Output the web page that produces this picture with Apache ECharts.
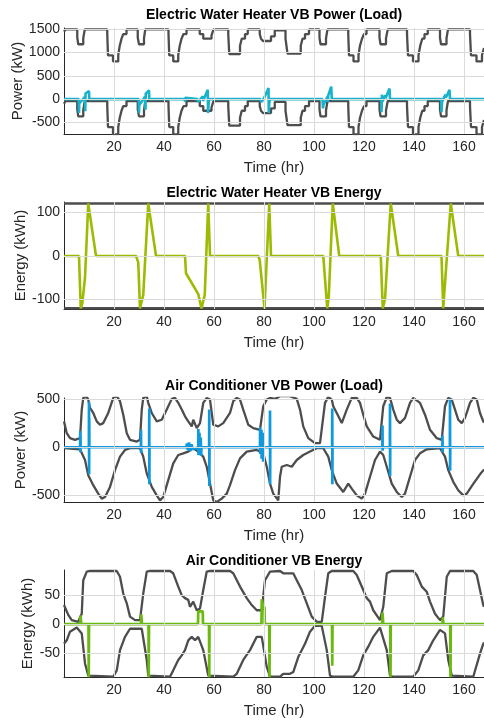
<!DOCTYPE html>
<html>
<head>
<meta charset="utf-8">
<script src="https://cdn.jsdelivr.net/npm/echarts@6/dist/echarts.min.js"></script>
<style>
html, body { margin: 0; padding: 0; background: #fff; }
#container { width: 484px; height: 721px; }
</style>
</head>
<body>
<div id="container"></div>
<script>
var dom = document.getElementById("container");
var myChart = echarts.init(dom);

// tick labels
var timeTicks = [20, 40, 60, 80, 100, 120, 140, 160];
var ewhPowerTicks = [-500, 0, 500, 1000, 1500];
var ewhEnergyTicks = [-100, 0, 100];
var acPowerTicks = [-500, 0, 500];
var acEnergyTicks = [-50, 0, 50];

var titles = [
  "Electric Water Heater VB Power (Load)",
  "Electric Water Heater VB Energy",
  "Air Conditioner VB Power (Load)",
  "Air Conditioner VB Energy"
];
var yNames = ["Power (kW)", "Energy (kWh)", "Power (kW)", "Energy (kWh)"];

// water heater power limits (kW), stairs
var ewhPowerUpper = [
  [0, 1450], [0.6, 1500],
  [5.3, 1330], [5.7, 1180], [7.7, 1310], [8.3, 1500],
  [17.3, 1400], [17.6, 940], [19.6, 810], [21.7, 950], [22.3, 1150], [23, 1300], [23.7, 1400], [25, 1500],
  [29.5, 1320], [30, 1180], [32, 1310], [32.5, 1500],
  [41.8, 1400], [42.1, 940], [43.7, 810], [45.7, 950], [46.3, 1150], [47, 1300], [47.8, 1400], [49, 1500],
  [54.3, 1400], [55.7, 1300], [59, 1370], [59.8, 1500],
  [65.7, 1400], [66.1, 970], [70.4, 1150], [71.1, 1300], [72.4, 1400], [73.5, 1500],
  [78.3, 1400], [78.8, 1300], [79.6, 1250], [82.8, 1350], [84.3, 1480],
  [88.6, 1300], [89.4, 980], [94.7, 1150], [95.4, 1300], [96.4, 1400], [98, 1500],
  [102.2, 1320], [102.6, 1180], [104.8, 1310], [105.4, 1500],
  [113.7, 1400], [114, 940], [115.8, 810], [117.8, 950], [118.4, 1150], [119.2, 1300], [120, 1400], [121, 1500],
  [126.2, 1320], [126.6, 1180], [128.8, 1310], [129.5, 1500],
  [137.2, 1400], [137.6, 940], [139.6, 810], [141.8, 950], [142.5, 1150], [143.3, 1300], [144.2, 1400], [145.5, 1500],
  [150.4, 1320], [150.8, 1180], [153, 1310], [153.6, 1500],
  [162.4, 1400], [162.8, 940], [165, 810], [167.2, 950], [168, 1100]
];
var ewhPowerLower = [
  [0, -100], [0.6, -40],
  [5.3, -220], [5.7, -370], [7.7, -240], [8.3, -40],
  [17.3, -150], [17.6, -600], [19.6, -760], [21.7, -600], [22.3, -400], [23, -250], [23.7, -150], [25, -40],
  [29.5, -220], [30, -370], [32, -240], [32.5, -40],
  [41.8, -150], [42.1, -600], [43.7, -760], [45.7, -600], [46.3, -400], [47, -250], [47.8, -150], [49, -40],
  [54.3, -150], [55.7, -250], [59, -180], [59.8, -40],
  [65.7, -150], [66.1, -570], [70.4, -400], [71.1, -250], [72.4, -150], [73.5, -40],
  [78.3, -150], [78.8, -250], [79.6, -300], [82.8, -200], [84.3, -60],
  [88.6, -250], [89.4, -560], [94.7, -400], [95.4, -250], [96.4, -150], [98, -40],
  [102.2, -220], [102.6, -370], [104.8, -240], [105.4, -40],
  [113.7, -150], [114, -600], [115.8, -760], [117.8, -600], [118.4, -400], [119.2, -250], [120, -150], [121, -40],
  [126.2, -220], [126.6, -370], [128.8, -240], [129.5, -40],
  [137.2, -150], [137.6, -600], [139.6, -760], [141.8, -600], [142.5, -400], [143.3, -250], [144.2, -150], [145.5, -40],
  [150.4, -220], [150.8, -370], [153, -240], [153.6, -40],
  [162.4, -150], [162.8, -600], [165, -760], [167.2, -600], [168, -450]
];
var ewhPowerVB = [
  [0, 0],
  [5.9, 0], [6.0, -300], [6.1, -90], [8.4, 50], [8.5, -260], [8.6, 120], [10.0, 175], [10.1, 0],
  [29.9, 0], [30.0, -300], [30.1, -130], [32.4, 50], [32.6, -230], [32.7, 120], [34.0, 190], [34.1, 0],
  [48.3, 0], [48.4, -60], [48.5, 30], [48.6, 0],
  [53.4, 0], [53.7, -60], [54.3, -20], [55.5, 60], [55.6, -40], [57.5, 200], [57.6, -300], [57.8, -150], [58.0, 0],
  [78.5, 0], [79, -60], [80, 20], [80.2, -20], [81.8, 240], [81.9, -300], [82.1, -100], [82.3, 0],
  [103.4, 0], [103.6, -200], [103.8, -120], [105.5, 60], [105.6, -60], [105.7, 80], [106.9, 270], [107.1, 0],
  [126.9, 0], [127.0, -280], [127.2, 100], [127.4, -50], [128.5, 80], [128.6, 20], [130.2, 230], [130.4, 0],
  [150.9, 0], [151.0, -280], [151.2, -60], [152.6, 100], [152.7, 30], [154.2, 200], [154.4, 0],
  [168, 0]
];

// water heater energy (kWh)
var ewhEnergyVB = [
  [0, 0], [6, 0], [6.7, -121], [7.3, -110], [8.4, -50], [9.7, 121], [12.8, 0],
  [28.8, 0], [29.7, -15], [30.4, -121], [30.9, -121], [31.7, -90], [33.7, 121], [36.8, 0],
  [48.4, 0], [48.8, -40], [53.7, -88], [55, -121], [55.5, -121], [56.3, -90], [57.7, 121], [58.4, 0],
  [77.7, 0], [78.3, -10], [80.2, -121], [80.6, -121], [82.1, 121], [82.8, 0],
  [103.7, 0], [105.3, -121], [105.9, -95], [107.5, 121], [110.1, 0],
  [126.7, 0], [127.5, -121], [128.0, -121], [128.4, -100], [130.7, 121], [133.7, 0],
  [151, 0], [151.7, -121], [152, -95], [152.4, -95], [154.7, 121], [157.7, 0], [168, 0]
];
var ewhEnergyMax = [[0, 121], [168, 121]];
var ewhEnergyMin = [[0, -121], [168, -121]];

// air conditioner power limits (kW)
var acPowerUpper = [
  [0, 268], [0.4, 268], [1.1, 146], [2.4, 94], [4.4, 77], [6.4, 94], [7.1, 390], [7.7, 511], [9.1, 522],
  [9.7, 494], [10.4, 407], [11.7, 355], [13.1, 268], [14.4, 233], [15.7, 250], [17.7, 355], [19.7, 511],
  [21.1, 529], [22.4, 477], [23.7, 337], [25.1, 146], [26.4, 77], [29.1, 59], [30.4, 77], [31.1, 390],
  [31.7, 511], [33.1, 529], [33.7, 460], [35.1, 355], [37.1, 268], [39.1, 285], [41.1, 390], [43.1, 501],
  [44.4, 511], [45.7, 460], [47.1, 390], [48.4, 320], [49.7, 268], [51.1, 216], [51.7, 285], [53.1, 198],
  [54.4, 250], [55.7, 460], [57.1, 511], [58.4, 494], [59.7, 233], [61.7, 216], [63.7, 250], [66.4, 355],
  [67.7, 477], [69.1, 511], [70.4, 494], [71.7, 390], [73.7, 233], [75.7, 198], [78.4, 181], [79.7, 425],
  [81.1, 494], [82.4, 511], [84.4, 501], [86.4, 529], [90.4, 529], [93.1, 501], [94.4, 390], [95.7, 216],
  [97.7, 94], [100.4, 42], [102.4, 42], [104.4, 460], [105.7, 522], [107.1, 494], [107.7, 425], [109.1, 355],
  [111.1, 250], [113.1, 390], [115.1, 511], [117.1, 511], [118.4, 460], [119.7, 337], [121.1, 216],
  [123.7, 111], [126.4, 77], [127.7, 425], [129.1, 518], [130.4, 511], [131.7, 390], [133.1, 285],
  [134.4, 250], [136.4, 303], [138.4, 460], [139.7, 511], [142.4, 460], [144.4, 337], [146.4, 181],
  [149.1, 94], [151.1, 77], [152.4, 425], [153.7, 511], [155.1, 494], [156.4, 390], [157.7, 285],
  [159.1, 250], [160.4, 303], [162.4, 460], [163.7, 511], [165.1, 494], [166.4, 355], [167.7, 268], [168, 255]
];
var acPowerLower = [
  [0, -10], [6.4, -21], [8.4, -132], [9.7, -289], [11.7, -393], [13.7, -480], [15.1, -532], [16.4, -515],
  [18.4, -411], [20.4, -237], [22.4, -97], [24.4, -28], [26.4, -10], [30.4, -10], [31.7, -97], [33.1, -271],
  [35.1, -411], [37.1, -498], [38.4, -550], [39.7, -515], [41.7, -341], [43.7, -167], [45.7, -80],
  [47.7, -63], [49.7, -45], [51.7, -10], [53.7, -45], [55.7, -97], [57.1, -202], [58.4, -376], [59.7, -550],
  [61.1, -567], [63.1, -532], [65.1, -480], [66.4, -393], [68.4, -237], [70.4, -115], [73.1, -45],
  [77.1, -28], [79.7, -63], [81.1, -202], [82.4, -376], [83.7, -480], [85.7, -550], [86.4, -306],
  [87.1, -202], [89.1, -184], [91.1, -202], [93.1, -132], [95.7, -80], [98.4, -45], [101.1, -10],
  [103.7, -10], [105.7, -97], [107.1, -237], [109.1, -376], [111.7, -463], [113.7, -376], [115.1, -428],
  [117.1, -498], [119.1, -532], [120.4, -480], [122.4, -306], [124.4, -132], [126.4, -45], [127.7, -80],
  [129.1, -202], [131.1, -376], [133.1, -463], [135.1, -515], [136.4, -480], [138.4, -306], [140.4, -132],
  [142.4, -63], [145.1, -21], [150.4, -10], [152.4, -97], [153.7, -237], [155.7, -358], [157.7, -445],
  [159.7, -498], [161.1, -480], [163.7, -380], [166.4, -280], [167.7, -240], [168, -230]
];
var acPowerVB = [
  [0, 0],
  [6.45, 0], [6.5, 167], [6.55, -52], [6.6, 120], [6.65, 0],
  [9.95, 0], [10.0, 470], [10.05, -279], [10.1, 300], [10.15, 0],
  [30.75, 0], [30.8, 181], [30.85, -60], [30.9, 0],
  [34.05, 0], [34.1, 400], [34.15, -383], [34.2, 0],
  [48.9, 0], [49.2, 40], [49.5, -30], [50, 50], [50.5, -40], [51, 30], [51.5, -20], [51.7, 0],
  [53.7, 0], [53.75, 190], [53.8, -80], [54.2, 150], [54.3, -60], [54.7, 100], [54.8, -90], [55.0, 0],
  [58.05, 0], [58.1, 390], [58.15, -400], [58.2, 0],
  [78.4, 0], [78.45, 207], [78.5, -70], [79, 180], [79.05, -120], [79.6, 150], [79.65, -150], [79.7, 0],
  [82.35, 0], [82.4, 380], [82.45, -383], [82.5, 0],
  [107.25, 0], [107.3, 400], [107.35, -383], [107.4, 0],
  [127.35, 0], [127.4, 225], [127.45, -35], [127.5, 0],
  [130.35, 0], [130.4, 453], [130.45, -297], [130.5, 0],
  [151.35, 0], [151.4, 122], [151.45, -52], [151.5, 0],
  [154.35, 0], [154.4, 505], [154.45, -244], [154.5, 0],
  [168, 0]
];

// air conditioner energy limits (kWh)
var acEnergyUpper = [
  [0, 33], [0.8, 30], [1.7, 16], [3.1, 7], [5.7, 4], [7.1, 18], [7.7, 76], [9.1, 91], [10.4, 92],
  [21.1, 92], [22.4, 82], [23.7, 53], [25.1, 36], [26.4, 13], [28.4, 7], [30.4, 7], [31.7, 53], [33.1, 91],
  [34.4, 92], [42.4, 92], [43.7, 88], [45.7, 65], [47.1, 50], [48.4, 45], [49.7, 42], [50.4, 30], [51.7, 39],
  [53.1, 24], [54.4, 27], [55.7, 59], [57.1, 91], [58.4, 92], [66.4, 92], [67.7, 88], [70.4, 65], [73.1, 45],
  [75.1, 33], [77.1, 24], [79.1, 24], [80.4, 76], [82.4, 91], [86.4, 92], [87.7, 88], [91.7, 88], [93.1, 76],
  [95.1, 59], [97.1, 36], [99.1, 13], [101.1, 4], [103.1, 4], [104.4, 47], [105.7, 88], [107.1, 92],
  [115.7, 92], [117.1, 85], [119.1, 65], [121.1, 45], [122.4, 39], [123.7, 24], [126.4, 7], [127.7, 30],
  [129.1, 88], [131.1, 92], [139.7, 92], [141.1, 85], [143.1, 65], [145.1, 56], [146.4, 39], [148.4, 18],
  [150.4, 7], [151.7, 13], [153.1, 82], [154.4, 92], [163.7, 92], [165.1, 85], [166.4, 59], [167.7, 33], [168, 30]
];
var acEnergyLower = [
  [0, -34], [1.1, -28], [2.4, -13], [5.1, -6], [7.1, -16], [8.4, -68], [9.7, -89], [10.4, -91], [19.7, -91],
  [21.1, -80], [22.4, -45], [24.4, -22], [26.4, -8], [31.1, -8], [33.1, -62], [33.7, -89], [34.4, -91],
  [42.4, -91], [43.7, -80], [45.7, -62], [47.1, -54], [48.4, -45], [49.7, -28], [51.1, -22], [52.4, -28],
  [53.7, -22], [55.7, -45], [57.7, -89], [58.4, -91], [67.7, -91], [69.1, -86], [71.7, -62], [74.4, -45],
  [77.1, -22], [79.1, -22], [81.1, -74], [82.4, -91], [86.4, -91], [87.7, -86], [90.4, -86], [91.7, -83],
  [93.7, -57], [96.4, -34], [98.4, -13], [100.4, -3], [103.1, -3], [105.1, -45], [106.4, -89], [107.7, -91],
  [115.7, -91], [117.7, -80], [119.7, -54], [121.7, -39], [123.7, -22], [126.4, -6], [129.1, -45],
  [130.4, -89], [131.7, -91], [139.7, -91], [141.7, -80], [143.7, -54], [145.7, -45], [147.7, -28],
  [150.4, -10], [152.4, -16], [153.7, -62], [155.1, -89], [155.7, -91], [163.7, -91], [166.4, -51],
  [167.7, -34], [168, -32]
];
var acEnergyVB = [
  [0, 0], [6.5, 0], [6.6, 15], [6.8, 15], [6.9, 0], [9.8, 0], [9.9, -92], [10.0, 0],
  [30.8, 0], [30.9, 17], [31.1, 17], [31.2, 0], [33.8, 0], [33.9, -92], [34.0, 0],
  [50.2, 0], [50.3, 3], [50.5, -3], [50.6, 0],
  [53.6, 0], [53.7, 22], [55.5, 22], [55.6, 0], [58.0, 0], [58.1, -92], [58.2, 0],
  [79.0, 0], [79.1, 43], [79.6, 25], [80.2, 30], [80.3, 0], [82.1, 0], [82.2, -92], [82.3, 0],
  [107.2, 0], [107.3, -72], [107.4, 0],
  [127.3, 0], [127.4, 20], [127.6, 20], [127.7, 0], [130.5, 0], [130.6, -92], [130.7, 0],
  [151.4, 0], [151.5, 12], [151.7, 12], [151.8, 0], [154.5, 0], [154.6, -92], [154.7, 0], [168, 0]
];

var FONT = "'Liberation Sans', Arial, Helvetica, sans-serif";
var INK = "#262626";
var GRAY = "#4d4d4d";

var gridBoxes = [
  { left: 64, top: 28, width: 420, height: 106, outerBoundsMode: "none", containLabel: false },
  { left: 64, top: 202, width: 420, height: 107, outerBoundsMode: "none", containLabel: false },
  { left: 64, top: 398, width: 420, height: 104, outerBoundsMode: "none", containLabel: false },
  { left: 64, top: 570, width: 420, height: 107, outerBoundsMode: "none", containLabel: false }
];
var yRanges = [[-750, 1530], [-122.5, 124.5], [-567, 510], [-91.5, 93.7]];
var yTickSets = [ewhPowerTicks, ewhEnergyTicks, acPowerTicks, acEnergyTicks];
var yNameGaps = [39, 36, 36, 29];
var titleY = [15, 193, 386, 561];

var xAxes = [];
var yAxes = [];
var series = [];
var graphics = [];

function plain(v) { return String(v); }

gridBoxes.forEach(function (g, i) {
  xAxes.push({
    gridIndex: i,
    type: "value",
    min: 0,
    max: 168,
    name: "Time (hr)",
    nameLocation: "middle",
    nameGap: 26,
    nameMoveOverlap: false,
    nameTextStyle: { fontFamily: FONT, fontSize: 15, color: INK },
    axisLine: { show: true, onZero: false, lineStyle: { color: INK, width: 1 } },
    axisTick: { show: true, inside: true, length: 4, customValues: timeTicks, lineStyle: { color: INK } },
    axisLabel: { customValues: timeTicks, formatter: plain, fontFamily: FONT, fontSize: 14, color: INK, margin: 6 },
    splitLine: { show: false }
  });
  yAxes.push({
    gridIndex: i,
    type: "value",
    min: yRanges[i][0],
    max: yRanges[i][1],
    name: yNames[i],
    nameLocation: "middle",
    nameGap: yNameGaps[i],
    nameMoveOverlap: false,
    nameTextStyle: { fontFamily: FONT, fontSize: 15, color: INK },
    axisLine: { show: true, onZero: false, lineStyle: { color: INK, width: 1 } },
    axisTick: { show: true, inside: true, length: 4, customValues: yTickSets[i], lineStyle: { color: INK } },
    axisLabel: { customValues: yTickSets[i], formatter: plain, fontFamily: FONT, fontSize: 14, color: INK, margin: 4 },
    splitLine: { show: false }
  });
  // grid lines
  series.push({
    type: "line",
    xAxisIndex: i,
    yAxisIndex: i,
    data: [[0, 0]],
    showSymbol: false,
    lineStyle: { width: 0 },
    silent: true,
    z: 1,
    markLine: {
      silent: true,
      animation: false,
      symbol: ["none", "none"],
      label: { show: false },
      lineStyle: { color: "#dadada", width: 1, type: "solid" },
      data: timeTicks.map(function (v) { return { xAxis: v }; })
        .concat(yTickSets[i].map(function (v) { return { yAxis: v }; }))
    }
  });
  graphics.push({
    type: "text",
    x: g.left + g.width / 2,
    y: titleY[i],
    style: {
      text: titles[i],
      fill: "#000",
      font: "bold 14px " + FONT,
      textAlign: "center",
      textVerticalAlign: "middle"
    }
  });
});

function line(i, data, color, width, z, step) {
  return {
    type: "line",
    xAxisIndex: i,
    yAxisIndex: i,
    data: data,
    step: step || false,
    showSymbol: false,
    smooth: false,
    clip: true,
    z: z,
    lineStyle: { color: color, width: width },
    emphasis: { disabled: true }
  };
}

series.push(line(0, ewhPowerUpper, GRAY, 2.3, 3, "end"));
series.push(line(0, ewhPowerLower, GRAY, 2.3, 3, "end"));
series.push(line(0, ewhPowerVB, "#17b3cc", 2.6, 4));

series.push(line(1, ewhEnergyMax, GRAY, 2.5, 3));
series.push(line(1, ewhEnergyMin, GRAY, 2.5, 3));
series.push(line(1, ewhEnergyVB, "#9dbb03", 2.6, 4));

series.push(line(2, acPowerUpper, GRAY, 2.3, 3));
series.push(line(2, acPowerLower, GRAY, 2.3, 3));
series.push(line(2, acPowerVB, "#0f9ae0", 2.7, 4));

series.push(line(3, acEnergyUpper, GRAY, 2.3, 3));
series.push(line(3, acEnergyLower, GRAY, 2.3, 3));
series.push(line(3, acEnergyVB, "#6ab90e", 2.7, 4));

var option = {
  animation: false,
  backgroundColor: "#fff",
  grid: gridBoxes,
  xAxis: xAxes,
  yAxis: yAxes,
  series: series,
  graphic: graphics
};

myChart.setOption(option);
</script>
</body>
</html>
